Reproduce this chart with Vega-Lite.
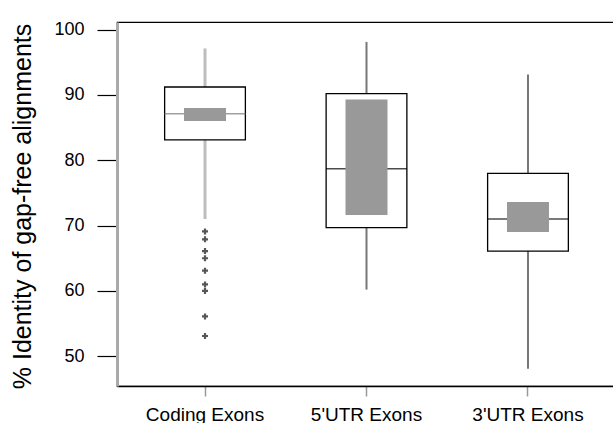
{
  "$schema": "https://vega.github.io/schema/vega-lite/v6.json",
  "autosize": {"type": "none"},
  "padding": {"left": 117, "top": 22, "right": 0, "bottom": 37},
  "width": 499,
  "height": 364,
  "background": "white",
  "config": {
    "view": {"stroke": "#000000", "strokeWidth": 1.2},
    "font": "Liberation Sans"
  },
  "datasets": {
    "summary": [
      {"cat": "Coding Exons", "lo": 71.0, "q1": 83.1, "med": 87.1, "q3": 91.2, "hi": 97.1, "nlo": 86.0, "nhi": 88.0},
      {"cat": "5'UTR Exons", "lo": 60.2, "q1": 69.7, "med": 78.7, "q3": 90.2, "hi": 98.1, "nlo": 71.6, "nhi": 89.3},
      {"cat": "3'UTR Exons", "lo": 48.1, "q1": 66.1, "med": 71.0, "q3": 78.0, "hi": 93.1, "nlo": 69.0, "nhi": 73.6}
    ],
    "outliers": [
      {"cat": "Coding Exons", "v": 69.1},
      {"cat": "Coding Exons", "v": 67.9},
      {"cat": "Coding Exons", "v": 66.1},
      {"cat": "Coding Exons", "v": 65.0},
      {"cat": "Coding Exons", "v": 63.1},
      {"cat": "Coding Exons", "v": 61.0},
      {"cat": "Coding Exons", "v": 60.0},
      {"cat": "Coding Exons", "v": 56.1},
      {"cat": "Coding Exons", "v": 53.1}
    ]
  },
  "encoding": {
    "x": {
      "field": "cat",
      "type": "nominal",
      "sort": ["Coding Exons", "5'UTR Exons", "3'UTR Exons"],
      "scale": {"type": "band", "paddingInner": 0, "paddingOuter": 0.045},
      "axis": {
        "title": null,
        "labelAngle": 0,
        "labelFontSize": 19,
        "labelColor": "#000000",
        "labelPadding": 9,
        "tickSize": 10,
        "tickColor": "#999999",
        "tickWidth": 1.5,
        "domainColor": "#000000",
        "domainWidth": 1.5,
        "grid": false
      }
    }
  },
  "layer": [
    {
      "data": {"name": "summary"},
      "mark": {"type": "rule"},
      "encoding": {
        "y": {
          "field": "lo",
          "type": "quantitative",
          "scale": {"domain": [45.45, 101.15], "nice": false, "zero": false},
          "axis": {
            "title": "% Identity of gap-free alignments",
            "titleFontSize": 25,
            "titleFontWeight": "normal",
            "titleColor": "#000000",
            "titleX": -95,
            "titleY": 184,
            "titleAngle": -90,
            "titleAlign": "center",
            "titleBaseline": "middle",
            "values": [50, 60, 70, 80, 90, 100],
            "labelFontSize": 18,
            "labelColor": "#000000",
            "labelPadding": 13,
            "tickSize": 20,
            "tickColor": "#000000",
            "tickWidth": 1.2,
            "domainColor": "#aaaaaa",
            "domainWidth": 3,
            "grid": false
          }
        },
        "y2": {"field": "hi"},
        "color": {
          "condition": {"test": "datum.cat === 'Coding Exons'", "value": "#bdbdbd"},
          "value": "#777777"
        },
        "strokeWidth": {
          "condition": {"test": "datum.cat === 'Coding Exons'", "value": 3},
          "value": 2
        }
      }
    },
    {
      "data": {"name": "summary"},
      "mark": {"type": "bar", "width": {"band": 0.5}, "fill": "#ffffff", "stroke": "#000000", "strokeWidth": 1.3},
      "encoding": {
        "y": {"field": "q1", "type": "quantitative"},
        "y2": {"field": "q3"}
      }
    },
    {
      "data": {"name": "summary"},
      "mark": {"type": "tick", "size": 81, "thickness": 1.5},
      "encoding": {
        "y": {"field": "med", "type": "quantitative"},
        "color": {
          "condition": {"test": "datum.cat === 'Coding Exons'", "value": "#777777"},
          "value": "#000000"
        }
      }
    },
    {
      "data": {"name": "summary"},
      "mark": {"type": "bar", "width": {"band": 0.26}, "fill": "#999999"},
      "encoding": {
        "y": {"field": "nlo", "type": "quantitative"},
        "y2": {"field": "nhi"}
      }
    },
    {
      "data": {"name": "outliers"},
      "mark": {"type": "point", "shape": "M-1,0H1M0,-1V1", "size": 36, "stroke": "#111111", "strokeWidth": 2.2, "filled": false},
      "encoding": {
        "y": {"field": "v", "type": "quantitative"}
      }
    }
  ]
}
